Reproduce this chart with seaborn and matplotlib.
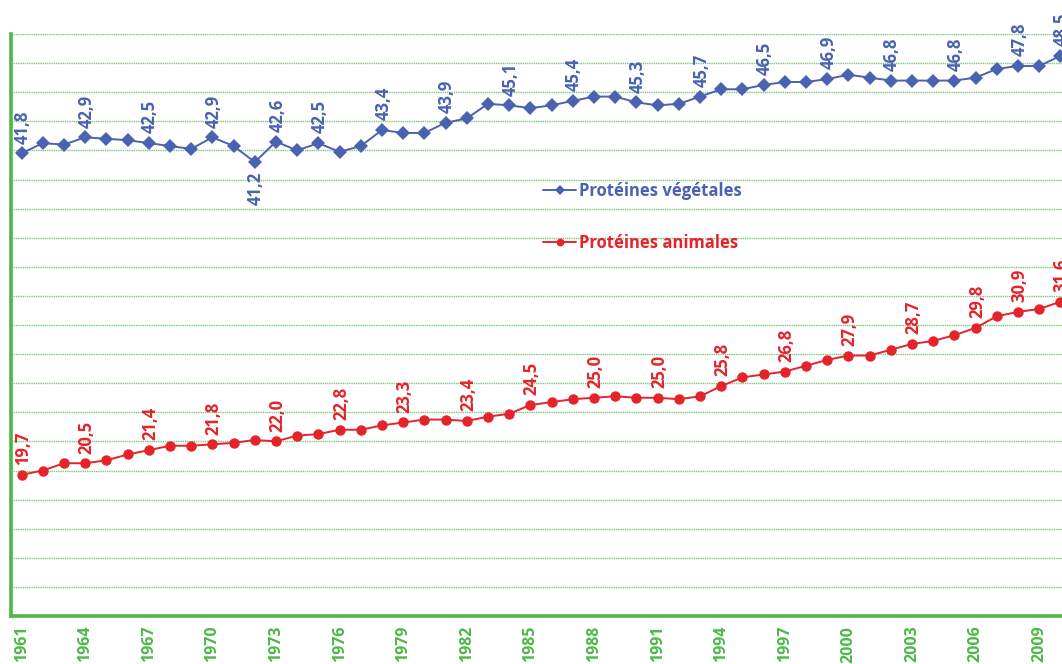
import numpy as np
import pandas as pd
import matplotlib
matplotlib.use("Agg")
import matplotlib.pyplot as plt
import seaborn as sns

# Disponibilité en protéines (g/personne/jour), 1961-2010
annees = list(range(1961, 2011))
proteines_vegetales = [
    41.8, 42.5, 42.4, 42.9, 42.8, 42.7, 42.5, 42.3, 42.1, 42.9,
    42.3, 41.2, 42.6, 42.0, 42.5, 41.9, 42.3, 43.4, 43.2, 43.2,
    43.9, 44.2, 45.2, 45.1, 44.9, 45.1, 45.4, 45.7, 45.7, 45.3,
    45.1, 45.2, 45.7, 46.2, 46.2, 46.5, 46.7, 46.7, 46.9, 47.2,
    47.0, 46.8, 46.8, 46.8, 46.8, 47.0, 47.6, 47.8, 47.8, 48.5,
]
proteines_animales = [
    19.7, 20.0, 20.5, 20.5, 20.7, 21.1, 21.4, 21.7, 21.7, 21.8,
    21.9, 22.1, 22.0, 22.4, 22.5, 22.8, 22.8, 23.1, 23.3, 23.5,
    23.5, 23.4, 23.7, 23.9, 24.5, 24.7, 24.9, 25.0, 25.1, 25.0,
    25.0, 24.9, 25.1, 25.8, 26.4, 26.6, 26.8, 27.2, 27.6, 27.9,
    27.9, 28.3, 28.7, 28.9, 29.3, 29.8, 30.6, 30.9, 31.1, 31.6,
]
series_noms = ["Protéines végétales", "Protéines animales"]
# années étiquetées (valeur affichée), et celles dont l'étiquette passe sous le point
etiquettes_vegetales = [1961, 1964, 1967, 1970, 1972, 1973, 1975, 1978, 1981, 1984,
                        1987, 1990, 1993, 1996, 1999, 2002, 2005, 2008, 2010]
etiquettes_vegetales_dessous = [1972]
etiquettes_animales = [1961, 1964, 1967, 1970, 1973, 1976, 1979, 1982, 1985, 1988,
                       1991, 1994, 1997, 2000, 2003, 2006, 2008, 2010]
annees_affichees = list(range(1961, 2011, 3))

BLEU = "#4A62AF"
ROUGE = "#E4242A"
VERT = "#4DB848"
VERT_GRILLE = "#7DCA7D"

sns.set_theme(style="white")
plt.rcParams["font.family"] = ["Open Sans", "DejaVu Sans"]

df = pd.DataFrame({"annee": annees,
                   series_noms[0]: proteines_vegetales,
                   series_noms[1]: proteines_animales})

W, H = 1062, 664
fig = plt.figure(figsize=(W / 100, H / 100), dpi=100)
ax = fig.add_axes([11 / W, 48 / H, 1060 / W, 582 / H])

sns.lineplot(data=df, x="annee", y=series_noms[0], ax=ax, color=BLEU,
             marker="D", markersize=7, markeredgewidth=0, linewidth=1.4,
             label=series_noms[0], zorder=3)
sns.lineplot(data=df, x="annee", y=series_noms[1], ax=ax, color=ROUGE,
             marker="o", markersize=7.5, markeredgewidth=0, linewidth=1.4,
             label=series_noms[1], zorder=3)


def fmt(v):
    return f"{v:.1f}".replace(".", ",")


for a, v in zip(annees, proteines_vegetales):
    if a in etiquettes_vegetales:
        dessous = a in etiquettes_vegetales_dessous
        ax.annotate(fmt(v), (a, v), xytext=(1, -7 if dessous else 7),
                    textcoords="offset points", rotation=90, ha="center",
                    va="top" if dessous else "bottom", color=BLEU,
                    fontsize=12, fontweight="bold", annotation_clip=False)
for a, v in zip(annees, proteines_animales):
    if a in etiquettes_animales:
        ax.annotate(fmt(v), (a, v), xytext=(1, 7), textcoords="offset points",
                    rotation=90, ha="center", va="bottom", color=ROUGE,
                    fontsize=12, fontweight="bold", annotation_clip=False)

ax.set_xlim(1960.5, 2010.5)
ax.set_ylim(10, 50)
ax.set_xlabel("")
ax.set_ylabel("")

ax.set_xticks(annees_affichees)
ax.set_xticklabels([str(a) for a in annees_affichees], rotation=90,
                   color=VERT, fontsize=11.5, fontweight="bold")
ax.set_xticks(np.arange(1960.5, 2011, 1), minor=True)
ax.tick_params(axis="x", which="major", length=0, pad=7)
ax.tick_params(axis="x", which="minor", length=4, width=1.6, color=VERT,
               direction="out")
ax.set_yticks(np.arange(10, 51, 2))
ax.set_yticklabels([])
ax.tick_params(axis="y", which="major", length=3, width=1.2, color=VERT,
               direction="out")

ax.grid(axis="y", color=VERT_GRILLE, linestyle=(0, (1, 0.6)), linewidth=1.0)
ax.grid(axis="x", visible=False)
ax.set_axisbelow(True)

for s in ("top", "right"):
    ax.spines[s].set_visible(False)
for s in ("left", "bottom"):
    ax.spines[s].set_color(VERT)
    ax.spines[s].set_linewidth(2.6)

leg = ax.legend(loc="upper left", bbox_to_anchor=(543 / W, 1 - 182 / H),
                bbox_transform=fig.transFigure, frameon=False,
                handlelength=2.0, handletextpad=0.15, labelspacing=2.05,
                borderpad=0, borderaxespad=0, markerscale=0.75,
                prop={"size": 12, "weight": "bold"}, labelcolor="linecolor")

fig.savefig("out.png", dpi=100)
